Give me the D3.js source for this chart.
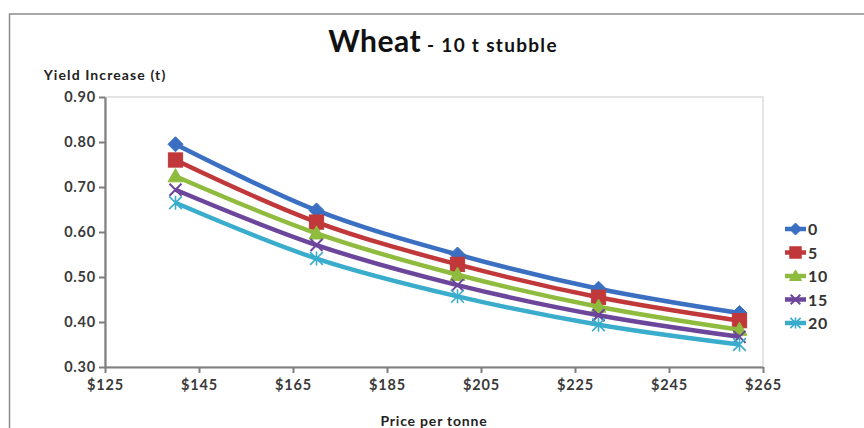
<!DOCTYPE html>
<html>
<head>
<meta charset="utf-8">
<script src="https://cdn.jsdelivr.net/npm/d3@7"></script>
<style>
  html, body { margin: 0; padding: 0; background: #fff; }
  svg { display: block; font-family: Lato, "Open Sans", sans-serif; }
</style>
</head>
<body>
<svg id="chart" width="864" height="428"></svg>
<script>
// Price points (per tonne) and yield increase for each stubble series
const prices = [140, 170, 200, 230, 260];
const seriesNames = ["0", "5", "10", "15", "20"];
const yield0  = [0.795, 0.648, 0.550, 0.474, 0.420];
const yield5  = [0.760, 0.622, 0.528, 0.455, 0.403];
const yield10 = [0.724, 0.597, 0.505, 0.434, 0.383];
const yield15 = [0.694, 0.571, 0.482, 0.415, 0.367];
const yield20 = [0.665, 0.541, 0.457, 0.394, 0.350];
const xTicks = [125, 145, 165, 185, 205, 225, 245, 265];
const yTicks = [0.30, 0.40, 0.50, 0.60, 0.70, 0.80, 0.90];

const colors = ["#3b6fc2", "#c0383a", "#8fbc3e", "#6c469b", "#3aaccc"];
const markers = ["diamond", "square", "triangle", "cross", "star"];
const series = [yield0, yield5, yield10, yield15, yield20].map((vals, i) => ({
  name: seriesNames[i], color: colors[i], marker: markers[i],
  points: vals.map((v, j) => ({ x: prices[j], y: v }))
}));

const svg = d3.select("#chart");
const plot = { left: 105, right: 763, top: 97, bottom: 367 };

const x = d3.scaleLinear().domain([125, 265]).range([plot.left, plot.right]);
const y = d3.scaleLinear().domain([0.30, 0.90]).range([plot.bottom, plot.top]);

// outer chart frame
svg.append("rect").attr("x", 9.5).attr("y", 14).attr("width", 900).attr("height", 500)
  .attr("fill", "none").attr("stroke", "#8c8c8c").attr("stroke-width", 1.5);

// plot area border
svg.append("rect").attr("x", plot.left).attr("y", plot.top)
  .attr("width", plot.right - plot.left).attr("height", plot.bottom - plot.top)
  .attr("fill", "#fff").attr("stroke", "#d4d4d4").attr("stroke-width", 1.2);

// title
const title = svg.append("text").attr("x", 443).attr("y", 52).attr("text-anchor", "middle")
  .attr("fill", "#111").attr("font-weight", "bold");
title.append("tspan").attr("font-size", 30).attr("letter-spacing", 0.5).text("Wheat");
title.append("tspan").attr("font-size", 19).attr("letter-spacing", 1.3).text(" - 10 t stubble");

svg.append("text").attr("x", plot.left).attr("y", 80).attr("text-anchor", "middle")
  .attr("font-size", 14).attr("letter-spacing", 1.1).attr("font-weight", "bold")
  .attr("fill", "#222").text("Yield Increase (t)");

// axes
const axisColor = "#7f7f7f";
const yAxis = svg.append("g").attr("transform", `translate(${plot.left},0)`)
  .call(d3.axisLeft(y).tickValues(yTicks).tickFormat(d3.format(".2f")).tickSize(6).tickSizeOuter(0));
const xAxis = svg.append("g").attr("transform", `translate(0,${plot.bottom})`)
  .call(d3.axisBottom(x).tickValues(xTicks).tickFormat(d => "$" + d).tickSize(6).tickSizeOuter(0));
[yAxis, xAxis].forEach(g => {
  g.select(".domain").attr("stroke", axisColor).attr("stroke-width", 2.2);
  g.selectAll(".tick line").attr("stroke", axisColor).attr("stroke-width", 2);
  g.selectAll(".tick text").attr("fill", "#3a3a3a").attr("font-size", 14.5)
    .attr("letter-spacing", 0.8).attr("font-weight", "bold").attr("font-family", "Lato, sans-serif");
});
yAxis.selectAll(".tick text").attr("x", -9);
xAxis.selectAll(".tick text").attr("y", 13);

svg.append("text").attr("x", (plot.left + plot.right) / 2).attr("y", 426)
  .attr("text-anchor", "middle").attr("font-size", 14).attr("letter-spacing", 0.8)
  .attr("font-weight", "bold").attr("fill", "#222").text("Price per tonne");

// marker drawing
function drawMarker(g, type, color, cx, cy, s) {
  if (type === "diamond") {
    g.append("path").attr("d", `M${cx},${cy - s}L${cx + s},${cy}L${cx},${cy + s}L${cx - s},${cy}Z`)
      .attr("fill", color).attr("stroke", color);
  } else if (type === "square") {
    const h = s * 0.95;
    g.append("rect").attr("x", cx - h).attr("y", cy - h).attr("width", 2 * h).attr("height", 2 * h)
      .attr("fill", color).attr("stroke", color);
  } else if (type === "triangle") {
    g.append("path").attr("d", `M${cx},${cy - s}L${cx + s},${cy + s * 0.75}L${cx - s},${cy + s * 0.75}Z`)
      .attr("fill", color).attr("stroke", color);
  } else if (type === "cross") {
    const h = s * 0.8;
    g.append("path").attr("d", `M${cx - h},${cy - h}L${cx + h},${cy + h}M${cx - h},${cy + h}L${cx + h},${cy - h}`)
      .attr("stroke", color).attr("stroke-width", 2).attr("fill", "none");
  } else if (type === "star") {
    const h = s * 0.85;
    g.append("path").attr("d",
      `M${cx - h},${cy - h}L${cx + h},${cy + h}M${cx - h},${cy + h}L${cx + h},${cy - h}M${cx},${cy - h * 1.1}L${cx},${cy + h * 1.1}`)
      .attr("stroke", color).attr("stroke-width", 1.6).attr("fill", "none");
  }
}

// smoothed series lines
const line = d3.line().x(d => x(d.x)).y(d => y(d.y)).curve(d3.curveCatmullRom.alpha(0.5));

series.forEach(s => {
  const g = svg.append("g");
  g.append("path").datum(s.points).attr("d", line).attr("fill", "none")
    .attr("stroke", s.color).attr("stroke-width", 4.5).attr("stroke-linejoin", "round");
  s.points.forEach(p => drawMarker(g, s.marker, s.color, x(p.x), y(p.y), 7.5));
});

// legend
const legend = svg.append("g");
series.forEach((s, i) => {
  const ly = 229 + i * 23.5;
  legend.append("line").attr("x1", 785).attr("x2", 806).attr("y1", ly).attr("y2", ly)
    .attr("stroke", s.color).attr("stroke-width", 4.5);
  drawMarker(legend, s.marker, s.color, 795.5, ly, 6);
  legend.append("text").attr("x", 808).attr("y", ly + 6).attr("font-size", 16)
    .attr("letter-spacing", 0.6).attr("fill", "#333").attr("font-weight", "bold").text(s.name);
});
</script>
</body>
</html>
